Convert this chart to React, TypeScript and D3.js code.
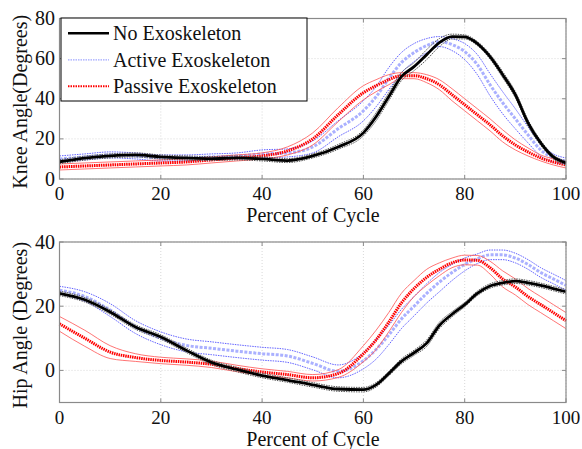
import * as d3 from "d3";

// percent of gait cycle
const pct = [0, 5, 10, 15, 20, 25, 30, 35, 40, 45, 50, 55, 60, 62.5, 65, 67.5, 70, 72.5, 75, 77.5, 80, 82.5, 85, 87.5, 90, 92.5, 95, 97.5, 100];

// knee angle means / sd
const kneeNone = [8.6, 10.4, 11.5, 12, 11, 10.5, 10.2, 10.5, 10, 9.2, 11.5, 16, 23, 31, 41, 51, 56, 62, 68, 71, 70.8, 67.5, 61, 52, 42, 28, 18, 11, 8];
const kneeNoneSd = [1, 1, 1, 1, 1, 1, 1, 1, 1, 1, 1, 1.2, 1.5, 2, 2, 2, 2, 2.5, 2, 1.2, 1, 1, 1.2, 1.5, 1.5, 1.5, 1.2, 1, 1];
const kneeActive = [10, 11, 12, 11.5, 10.5, 10.5, 11, 11.5, 12.5, 13, 16, 25, 34, 41, 50, 58, 63, 66.5, 68.5, 67, 63.5, 57, 47, 38, 30, 22, 14.5, 10.5, 9];
const kneeActiveSd = [1.5, 1.5, 1.5, 1.5, 1.5, 1.5, 1.5, 1.5, 2, 2, 3, 4, 5, 5, 5.5, 5, 4.5, 3.5, 2.5, 3, 4, 5, 5.5, 5.5, 5, 4, 3, 2, 1.5];
const kneePassive = [6, 6.5, 7, 7.5, 8, 8.5, 9.5, 10.5, 11.5, 14, 20, 32, 43, 46.5, 49.5, 51.5, 51.5, 50, 47, 42, 37, 32, 27, 21.5, 17, 13.5, 10.5, 8.5, 7];
const kneePassiveSd = [1.5, 1.5, 1.5, 1.5, 1.5, 1.5, 1.5, 1.5, 1.5, 2, 3, 3.5, 3.5, 3, 2.5, 1.5, 1.5, 2, 2.5, 3, 3, 3, 3, 3, 2.5, 2, 1.5, 1.5, 1.5];

// hip angle means / sd
const hipNone = [24, 22, 18.2, 13.5, 10.4, 6.3, 2.5, 0.3, -1.6, -3, -4.5, -5.8, -6, -4.5, -1, 2.8, 5.5, 8.5, 14, 17.5, 20.5, 24, 26.3, 27.3, 27.8, 27.3, 26.5, 25.5, 24.5];
const hipNoneSd = [0.7, 0.7, 0.7, 0.7, 0.7, 0.7, 0.7, 0.7, 0.7, 0.7, 0.7, 0.7, 0.7, 0.7, 0.7, 0.8, 0.8, 1, 1, 0.8, 0.7, 0.7, 0.7, 0.7, 0.7, 0.7, 0.7, 0.7, 0.7];
const hipActive = [25, 23, 18.8, 13.5, 10, 7.8, 6.9, 6, 5.2, 4.5, 2.2, -0.3, 3, 6.5, 11, 16, 20, 24, 27.5, 30.5, 33, 34.8, 36, 36, 35, 33, 30.5, 28.5, 26.5];
const hipActiveSd = [1.2, 1.5, 2, 2, 2, 2, 2, 2, 2, 2, 2, 2, 2.5, 3, 3, 3, 3, 3, 3, 2.5, 2, 1.5, 1.5, 1.5, 1.5, 1.5, 1.5, 1.5, 1.5];
const hipPassive = [14.5, 10, 5.7, 4, 3.1, 2.6, 1.9, 0.6, -0.5, -1.3, -2.3, -1, 5.2, 9.5, 15, 21, 25.5, 29, 31.5, 33.5, 34.4, 34.3, 32, 28.5, 26, 23, 20.5, 18, 15.5];
const hipPassiveSd = [2.3, 2.5, 2, 1.2, 1, 1, 1, 1, 1, 1, 1, 1.2, 2.5, 3, 3, 3, 2.5, 2.5, 2, 1.5, 1.5, 1.5, 2, 2.5, 2.5, 2.5, 2.5, 2.5, 2.5];

const xTicks = [0, 20, 40, 60, 80, 100];
const kneeTicks = [0, 20, 40, 60, 80];
const hipTicks = [0, 20, 40];
const legendLabels = ["No Exoskeleton", "Active Exoskeleton", "Passive Exoskeleton"];

const FONT = "'Liberation Serif', 'Times New Roman', serif";
const FS = 20;
const TFS = 19;

const styles = {
  none: { mean: { stroke: "#000", width: 2.8, dash: "" }, sd: { stroke: "#555", width: 1, dash: "1.5 1" } },
  active: { mean: { stroke: "#aab0ff", width: 3, dash: "3 1.5" }, sd: { stroke: "#3b3bff", width: 0.8, dash: "1.5 1" } },
  passive: { mean: { stroke: "#ff0000", width: 3, dash: "1.5 0.8" }, sd: { stroke: "#ff5050", width: 0.8, dash: "" } },
};

type Series = { mean: number[]; sd: number[]; style: typeof styles.none };

function Panel({ top, bottom, domain, ticks, series, ylabel, legend }: {
  top: number; bottom: number; domain: [number, number]; ticks: number[];
  series: Series[]; ylabel: string; legend?: boolean;
}) {
  const x = d3.scaleLinear().domain([0, 100]).range([59.5, 566]);
  const y = d3.scaleLinear().domain(domain).range([bottom, top]);
  const line = d3.line<number>()
    .x((_, i) => x(pct[i]))
    .y((d) => y(d))
    .curve(d3.curveMonotoneX);
  const x0 = x(0), x1 = x(100);
  return (
    <g>
      {xTicks.map((t) => (
        <line key={"gx" + t} x1={x(t)} x2={x(t)} y1={top} y2={bottom} stroke="#d8d8d8" strokeDasharray="1 2" />
      ))}
      {ticks.map((t) => (
        <line key={"gy" + t} x1={x0} x2={x1} y1={y(t)} y2={y(t)} stroke="#d8d8d8" strokeDasharray="1 2" />
      ))}
      {series.map((s, k) => (
        <g key={k}>
          <path d={line(s.mean.map((m, i) => m + s.sd[i])) || ""} fill="none" stroke={s.style.sd.stroke} strokeWidth={s.style.sd.width} strokeDasharray={s.style.sd.dash} />
          <path d={line(s.mean.map((m, i) => m - s.sd[i])) || ""} fill="none" stroke={s.style.sd.stroke} strokeWidth={s.style.sd.width} strokeDasharray={s.style.sd.dash} />
          <path d={line(s.mean) || ""} fill="none" stroke={s.style.mean.stroke} strokeWidth={s.style.mean.width} strokeDasharray={s.style.mean.dash} />
        </g>
      ))}
      <rect x={x0} y={top} width={x1 - x0} height={bottom - top} fill="none" stroke="#8a8a8a" strokeWidth={1.2} />
      {xTicks.map((t) => (
        <g key={"tx" + t}>
          <line x1={x(t)} x2={x(t)} y1={bottom} y2={bottom - 4} stroke="#8a8a8a" />
          <line x1={x(t)} x2={x(t)} y1={top} y2={top + 4} stroke="#8a8a8a" />
          <text x={x(t)} y={bottom + 21} textAnchor="middle" fontSize={TFS} fontFamily={FONT} fill="#111">{t}</text>
        </g>
      ))}
      {ticks.map((t) => (
        <g key={"ty" + t}>
          <line x1={x0} x2={x0 + 4} y1={y(t)} y2={y(t)} stroke="#8a8a8a" />
          <line x1={x1} x2={x1 - 4} y1={y(t)} y2={y(t)} stroke="#8a8a8a" />
          <text x={x0 - 4.5} y={y(t) + 6.5} textAnchor="end" fontSize={FS} fontFamily={FONT} fill="#111">{t}</text>
        </g>
      ))}
      <text x={313} y={bottom + 43} textAnchor="middle" fontSize={FS} fontFamily={FONT} fill="#111">Percent of Cycle</text>
      <text transform={`translate(27,${(top + bottom) / 2 + 3}) rotate(-90)`} textAnchor="middle" fontSize={FS} fontFamily={FONT} fill="#111">{ylabel}</text>
      {legend && (
        <g>
          <rect x={61} y={18} width={246} height={83} fill="#fff" stroke="#000" strokeWidth={1} />
          {legendLabels.map((lab, i) => {
            const st = [styles.none, styles.active, styles.passive][i];
            const ly = 33.3 + i * 26.5;
            return (
              <g key={lab}>
                <line x1={68} x2={109} y1={ly} y2={ly} stroke={i === 1 ? "#9fa6ff" : st.mean.stroke}
                  strokeWidth={i === 1 ? 1.2 : i === 2 ? 2 : 2.5} strokeDasharray={i === 0 ? "" : "1.5 1"} />
                <text x={113} y={ly + 7} fontSize={FS} fontFamily={FONT} fill="#111">{lab}</text>
              </g>
            );
          })}
        </g>
      )}
    </g>
  );
}

export default function App() {
  return (
    <svg width={582} height={449} style={{ position: "absolute", left: 0, top: 0, background: "#fff" }}>
      <rect width={582} height={449} fill="#fff" />
      <Panel top={18.5} bottom={179} domain={[0, 80]} ticks={kneeTicks} ylabel="Knee Angle(Degrees)" legend
        series={[
          { mean: kneeActive, sd: kneeActiveSd, style: styles.active },
          { mean: kneePassive, sd: kneePassiveSd, style: styles.passive },
          { mean: kneeNone, sd: kneeNoneSd, style: styles.none },
        ]} />
      <Panel top={242} bottom={402.5} domain={[-10, 40]} ticks={hipTicks} ylabel="Hip Angle (Degrees)"
        series={[
          { mean: hipActive, sd: hipActiveSd, style: styles.active },
          { mean: hipPassive, sd: hipPassiveSd, style: styles.passive },
          { mean: hipNone, sd: hipNoneSd, style: styles.none },
        ]} />
    </svg>
  );
}
